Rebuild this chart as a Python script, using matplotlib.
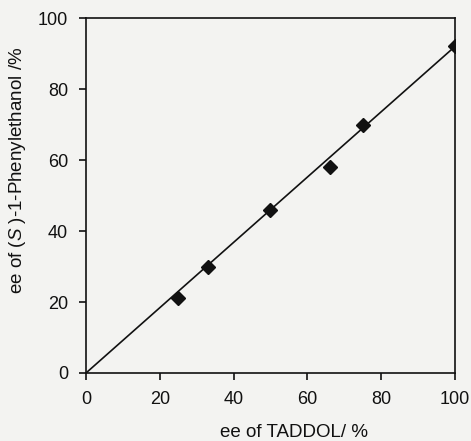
import matplotlib
matplotlib.use("Agg")
import matplotlib.pyplot as plt

plt.rcParams['font.family'] = ['Liberation Sans', 'DejaVu Sans']
plt.rcParams['mathtext.fontset'] = 'custom'
plt.rcParams['mathtext.rm'] = 'Liberation Sans'
plt.rcParams['mathtext.it'] = 'Liberation Sans:italic'

taddol_ee = [25, 33, 50, 66, 75, 100]
phenylethanol_ee = [21, 30, 46, 58, 70, 92]
fit_x = [0, 100]
fit_y = [0, 92]
ticks = [0, 20, 40, 60, 80, 100]

bg = '#f3f3f1'
fig = plt.figure(figsize=(4.71, 4.41), dpi=100, facecolor=bg)
ax = fig.add_axes([0.1826, 0.1542, 0.966 - 0.1826, 0.959 - 0.1542])
ax.set_facecolor(bg)

ax.plot(fit_x, fit_y, color='#111111', lw=1.2)
ax.plot(taddol_ee, phenylethanol_ee, linestyle='none', marker='D', ms=7,
        color='#111111')

ax.set_xlim(0, 100)
ax.set_ylim(0, 100)
ax.set_xticks(ticks)
ax.set_yticks(ticks)
ax.tick_params(direction='out', length=5, width=1.2, labelsize=13,
               colors='#111111', pad=8)
for s in ax.spines.values():
    s.set_linewidth(1.2)
    s.set_color('#111111')

ax.set_xlabel('ee of TADDOL/ %', fontsize=13.5, color='#111111')
ax.set_ylabel(r'ee of ($\mathit{S}$ )-1-Phenylethanol /%', fontsize=13.5,
              color='#111111')
ax.xaxis.set_label_coords(0.564, -0.145)
ax.yaxis.set_label_coords(-0.158, 0.57)

fig.savefig('out.png', dpi=100, facecolor=bg)
